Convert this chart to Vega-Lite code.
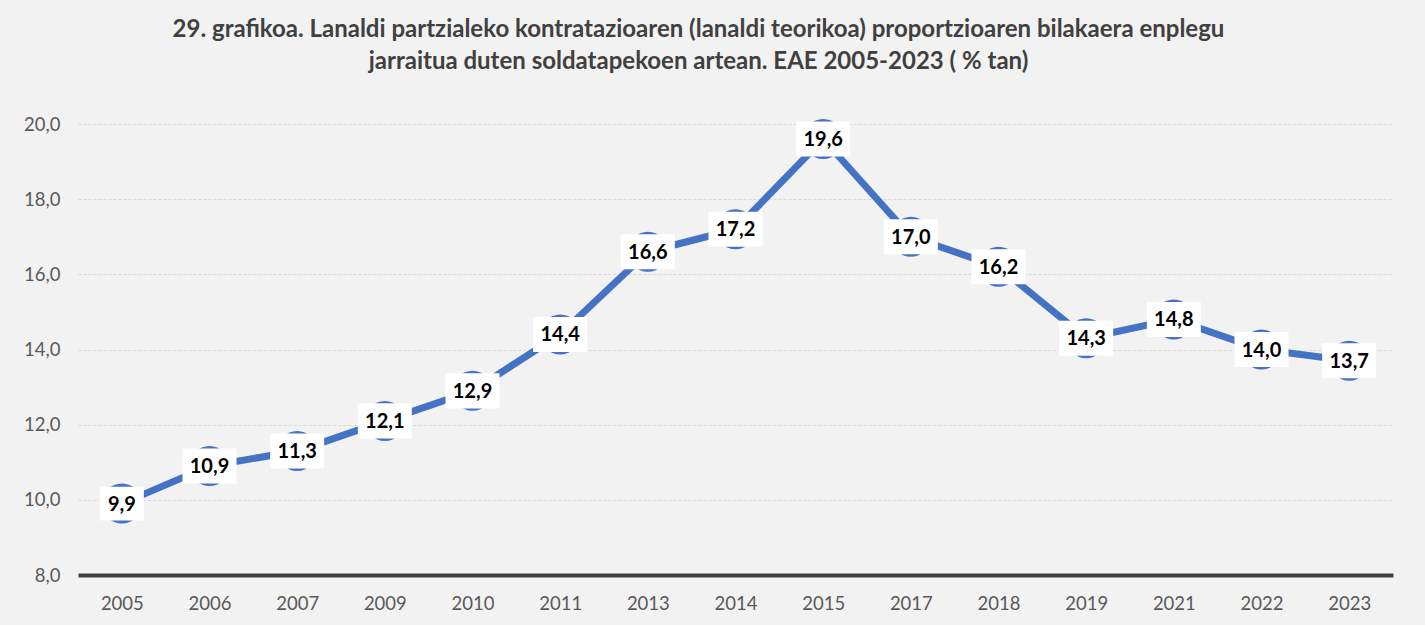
{
  "$schema": "https://vega.github.io/schema/vega-lite/v6.json",
  "autosize": {"type": "none"},
  "width": 1315,
  "height": 451,
  "padding": {"left": 78, "top": 124, "right": 32, "bottom": 50},
  "background": "#f2f2f2",
  "config": {
    "locale": {"number": {"decimal": ",", "thousands": ".", "grouping": [3], "currency": ["", " €"]}},
    "view": {"stroke": null},
    "font": "Lato"
  },
  "title": {
    "text": ["29. grafikoa. Lanaldi partzialeko kontratazioaren (lanaldi teorikoa) proportzioaren bilakaera enplegu", "jarraitua duten soldatapekoen artean. EAE 2005-2023 ( % tan)"],
    "fontSize": 24,
    "fontWeight": "bold",
    "font": "Lato",
    "color": "#404040",
    "lineHeight": 32,
    "anchor": "middle",
    "frame": "group",
    "offset": 41,
    "dx": -37
  },
  "data": {
    "values": [
      {"year": "2005", "value": 9.9},
      {"year": "2006", "value": 10.9},
      {"year": "2007", "value": 11.3},
      {"year": "2009", "value": 12.1},
      {"year": "2010", "value": 12.9},
      {"year": "2011", "value": 14.4},
      {"year": "2013", "value": 16.6},
      {"year": "2014", "value": 17.2},
      {"year": "2015", "value": 19.6},
      {"year": "2017", "value": 17.0},
      {"year": "2018", "value": 16.2},
      {"year": "2019", "value": 14.3},
      {"year": "2021", "value": 14.8},
      {"year": "2022", "value": 14.0},
      {"year": "2023", "value": 13.7}
    ]
  },
  "encoding": {
    "x": {
      "field": "year",
      "type": "ordinal",
      "sort": null,
      "scale": {"type": "point", "padding": 0.5},
      "axis": {
        "title": null,
        "labelAngle": 0,
        "labelFontSize": 18.5,
        "labelColor": "#595959",
        "labelFont": "Lato",
        "labelPadding": 19,
        "ticks": false,
        "domainColor": "#404040",
        "domainWidth": 4,
        "grid": false,
        "zindex": 0
      }
    },
    "y": {
      "field": "value",
      "type": "quantitative",
      "scale": {"domain": [8, 20], "nice": false, "zero": false},
      "axis": {
        "title": null,
        "values": [8, 10, 12, 14, 16, 18, 20],
        "format": ".1f",
        "labelFontSize": 18.5,
        "labelColor": "#595959",
        "labelFont": "Lato",
        "labelPadding": 18,
        "ticks": false,
        "domain": false,
        "grid": true,
        "gridColor": "#d9d9d9",
        "gridDash": [3, 2],
        "gridWidth": 1
      }
    }
  },
  "layer": [
    {
      "mark": {"type": "line", "color": "#4472C4", "strokeWidth": 7}
    },
    {
      "mark": {"type": "point", "shape": "circle", "filled": true, "color": "#4472C4", "opacity": 1, "size": 1600}
    },
    {
      "mark": {"type": "point", "filled": true, "color": "white", "opacity": 1, "strokeWidth": 0},
      "encoding": {
        "shape": {
          "condition": {"test": "datum.value < 10", "value": "M-1,-0.77L1,-0.77L1,0.77L-1,0.77Z"},
          "value": "M-1,-0.65L1,-0.65L1,0.65L-1,0.65Z"
        },
        "size": {
          "condition": {"test": "datum.value < 10", "value": 1936},
          "value": 2916
        }
      }
    },
    {
      "mark": {"type": "text", "fontSize": 20, "fontWeight": "bold", "font": "Lato", "color": "black", "align": "center", "baseline": "middle", "dy": 1},
      "encoding": {
        "text": {"field": "value", "type": "quantitative", "format": ".1f"}
      }
    }
  ]
}
